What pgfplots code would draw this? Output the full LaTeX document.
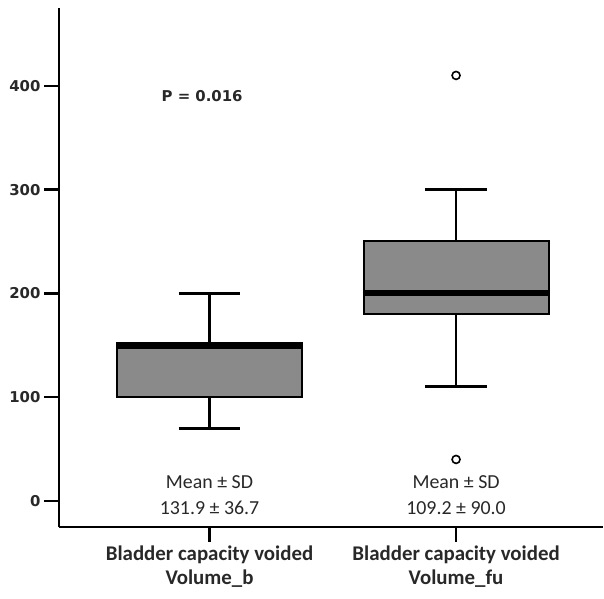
\documentclass[border=0pt]{standalone}
\usepackage{fontspec}
\setmainfont{Carlito}
\newfontfamily\tickfont{DejaVu Sans}
\usepackage{pgfplots}
\pgfplotsset{compat=1.18}
\definecolor{boxgray}{RGB}{138,138,138}
\definecolor{txtgray}{RGB}{40,40,40}
\begin{document}
\begin{tikzpicture}
\begin{axis}[
  name=ax,
  scale only axis, width=545bp, height=520bp,
  xmin=-0.611, xmax=1.595, ymin=-25, ymax=475,
  axis x line*=bottom, axis y line*=left,
  axis line style={line width=2.5bp, -},
  xtick={0,1},
  xticklabels={{Bladder capacity voided\\Volume\_b},{Bladder capacity voided\\Volume\_fu}},
  xticklabel style={align=center, font=\bfseries\fontsize{21}{25}\selectfont, text=txtgray},
  ytick={0,100,200,300,400},
  yticklabels={0,100,200,300,400},
  yticklabel style={font=\tickfont\bfseries\fontsize{15}{18}\selectfont, text=txtgray},
  tick align=outside, major tick length=15bp,
  tick style={line width=2.5bp, black},
  clip=false,
]
% box 1
\addplot[fill=boxgray, draw=black, line width=2bp] coordinates {(-0.375,100) (0.375,100) (0.375,152) (-0.375,152)} -- cycle;
\addplot[black, line width=2.8bp] coordinates {(0,152) (0,200)};
\addplot[black, line width=2.8bp] coordinates {(-0.125,200) (0.125,200)};
\addplot[black, line width=2.8bp] coordinates {(0,100) (0,70)};
\addplot[black, line width=2.8bp] coordinates {(-0.125,70) (0.125,70)};
\addplot[black, line width=6bp] coordinates {(-0.375,149) (0.375,149)};
% box 2
\addplot[fill=boxgray, draw=black, line width=2bp] coordinates {(0.625,180) (1.375,180) (1.375,250) (0.625,250)} -- cycle;
\addplot[black, line width=2.8bp] coordinates {(1,250) (1,300)};
\addplot[black, line width=2.8bp] coordinates {(0.875,300) (1.125,300)};
\addplot[black, line width=2.8bp] coordinates {(1,180) (1,110)};
\addplot[black, line width=2.8bp] coordinates {(0.875,110) (1.125,110)};
\addplot[black, line width=6bp] coordinates {(0.625,200) (1.375,200)};
\addplot[only marks, mark=o, mark size=4bp, mark options={line width=1.6bp, black}] coordinates {(1,410) (1,40)};
\node[font=\tickfont\bfseries\fontsize{15}{18}\selectfont, text=txtgray] at (axis cs:-0.03,390) {P = 0.016};
\node[font=\fontsize{20}{24}\selectfont, text=txtgray] at (axis cs:0,18) {Mean ± SD};
\node[font=\fontsize{20}{24}\selectfont, text=txtgray] at (axis cs:0,-7) {131.9 ± 36.7};
\node[font=\fontsize{20}{24}\selectfont, text=txtgray] at (axis cs:1,18) {Mean ± SD};
\node[font=\fontsize{20}{24}\selectfont, text=txtgray] at (axis cs:1,-7) {109.2 ± 90.0};
\end{axis}
\path (ax.south west) ++(-59bp,-72bp) rectangle ++(604bp,600bp);
\end{tikzpicture}
\end{document}
